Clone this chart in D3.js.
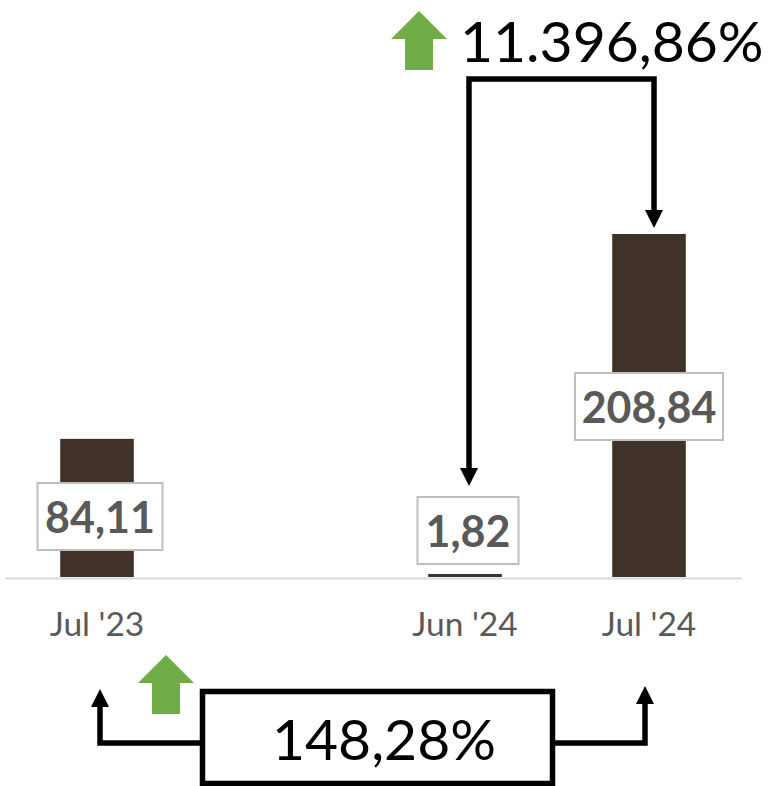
<!DOCTYPE html>
<html>
<head>
<meta charset="utf-8">
<script src="https://cdn.jsdelivr.net/npm/d3@7"></script>
<style>
    html, body { margin: 0; padding: 0; background: #fff; }
    svg { display: block; font-family: Lato, "Open Sans", sans-serif; }
</style>
</head>
<body>
<svg id="chart"></svg>
<script>
// Values (the empty category is the gap between Jul '23 and Jun '24)
var categories = ["Jul '23", "", "Jun '24", "Jul '24"];
var values = [84.11, null, 1.82, 208.84];
var valueLabels = ["84,11", "", "1,82", "208,84"];
var changeTop = "11.396,86%";
var changeBottom = "148,28%";

var width = 769, height = 786;
var baseline = 577, chartTop = 234;

var svg = d3.select("#chart").attr("width", width).attr("height", height);

var xScale = d3.scaleBand()
    .domain(categories)
    .range([5, 741])
    .paddingInner(0.6)
    .paddingOuter(0.3);

var yScale = d3.scaleLinear()
    .domain([0, 208.84])
    .range([baseline, chartTop]);

function center(cat) { return xScale(cat) + xScale.bandwidth() / 2; }

var rows = categories.map(function(c, i) {
    return { category: c, value: values[i], label: valueLabels[i] };
}).filter(function(d) { return d.value !== null; });

// Bars
svg.selectAll("rect.bar")
    .data(rows)
    .enter()
    .append("rect")
    .attr("class", "bar")
    .attr("x", function(d) { return xScale(d.category); })
    .attr("y", function(d) { return yScale(d.value); })
    .attr("width", xScale.bandwidth())
    .attr("height", function(d) { return baseline - yScale(d.value); })
    .attr("fill", "#403129");

// X axis
var axis = svg.append("g")
    .attr("transform", "translate(0," + (baseline + 1) + ")")
    .call(d3.axisBottom(xScale).tickSize(0).tickPadding(34));
axis.select(".domain").attr("stroke", "#d9d9d9").attr("stroke-width", 2);
axis.selectAll("text")
    .attr("fill", "#595959")
    .style("font-size", "33.5px")
    .style("font-family", "Lato, sans-serif");

// Value labels in boxes, placed by hand like the original
var boxW = { "84,11": 125, "1,82": 101, "208,84": 148 };
var boxTop = { "84,11": 483, "1,82": 497, "208,84": 373 };
var boxShift = { "84,11": 3, "1,82": 3, "208,84": 0 };

var labels = svg.selectAll("g.value-label")
    .data(rows)
    .enter()
    .append("g")
    .attr("class", "value-label")
    .attr("transform", function(d) {
        return "translate(" + (center(d.category) + boxShift[d.label]) + "," + boxTop[d.label] + ")";
    });
labels.append("rect")
    .attr("x", function(d) { return -boxW[d.label] / 2; })
    .attr("width", function(d) { return boxW[d.label]; })
    .attr("height", 67)
    .attr("fill", "#fff")
    .attr("stroke", "#bfbfbf")
    .attr("stroke-width", 2);
labels.append("text")
    .attr("y", 50)
    .attr("text-anchor", "middle")
    .attr("fill", "#595959")
    .style("font-size", "43px")
    .style("font-weight", "bold")
    .text(function(d) { return d.label; });

// Black connector arrows
function connector(points, tip) {
    svg.append("path")
        .attr("d", d3.line()(points))
        .attr("fill", "none")
        .attr("stroke", "#000")
        .attr("stroke-width", 5.5)
        .attr("stroke-linejoin", "miter");
    var dir = tip.dir, x = tip.x, y = tip.y;
    svg.append("path")
        .attr("d", "M" + x + "," + y + "L" + (x - 9) + "," + (y - dir * 18) + "L" + (x + 9) + "," + (y - dir * 18) + "Z")
        .attr("fill", "#000");
}

// Top bracket, Jun '24 <- -> Jul '24
connector([[469, 470], [469, 79], [654, 79], [654, 212]], { x: 654, y: 228, dir: 1 });
svg.append("path").attr("d", "M469,486L460,468L478,468Z").attr("fill", "#000");

// Bottom bracket
connector([[100, 705], [100, 743], [202, 743]], { x: 100, y: 689, dir: -1 });
connector([[553, 743], [645, 743], [645, 702]], { x: 645, y: 686, dir: -1 });

// Green up arrows
function greenArrow(cx, top, bottom) {
    var d = d3.path();
    d.moveTo(cx, top);
    d.lineTo(cx + 28, top + 28);
    d.lineTo(cx + 14, top + 28);
    d.lineTo(cx + 14, bottom);
    d.lineTo(cx - 14, bottom);
    d.lineTo(cx - 14, top + 28);
    d.lineTo(cx - 28, top + 28);
    d.closePath();
    svg.append("path").attr("d", d.toString()).attr("fill", "#70ad47");
}
greenArrow(419, 11, 70);
greenArrow(166, 655, 714);

// Percentage change texts
svg.append("text")
    .attr("x", 460)
    .attr("y", 62)
    .attr("fill", "#000")
    .style("font-size", "57px")
    .text(changeTop);

svg.append("rect")
    .attr("x", 202.5)
    .attr("y", 691.5)
    .attr("width", 350)
    .attr("height", 92)
    .attr("fill", "#fff")
    .attr("stroke", "#000")
    .attr("stroke-width", 5.5);

svg.append("text")
    .attr("x", 272)
    .attr("y", 760)
    .attr("fill", "#000")
    .style("font-size", "57px")
    .text(changeBottom);
</script>
</body>
</html>
